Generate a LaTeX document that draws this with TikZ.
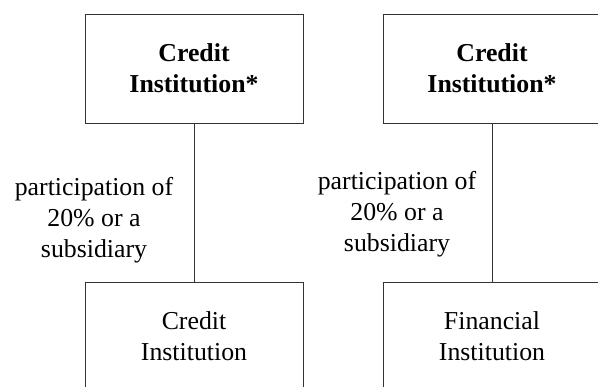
\documentclass[tikz,border=0pt]{standalone}
\usepackage{fontspec}
\setmainfont{Liberation Serif}
\usetikzlibrary{positioning}

\begin{document}
\begin{tikzpicture}[x=1pt,y=-1pt,font=\fontsize{25.8}{31}\selectfont]

	% Define the size of the boxes
	\def\boxW{218}
	\def\boxH{109}

	\tikzset{
		instbox/.style={draw=black!80, line width=0.9pt, minimum width=\boxW pt, minimum height=\boxH pt, align=center, inner sep=0pt},
		partlabel/.style={align=center, inner sep=0pt}
	}

	% Fix the page
	\useasboundingbox (0,0) rectangle (598,387);
	\clip (0,0) rectangle (598,387);

	% Parent institutions
	\node[instbox] (parentA) at (194,68.5) {\textbf{Credit}\\\textbf{Institution*}};
	\node[instbox] (parentB) at (492,68.5) {\textbf{Credit}\\\textbf{Institution*}};

	% Participated institutions
	\node[instbox] (childA) at (194,336.5) {Credit\\Institution};
	\node[instbox] (childB) at (492,336.5) {Financial\\Institution};

	% Links
	\draw[black!80, line width=0.9pt] (parentA.south) -- (childA.north);
	\draw[black!80, line width=0.9pt] (parentB.south) -- (childB.north);

	% Label the links
	\node[partlabel] (linkA) at (94,220) {participation of\\20\% or a\\subsidiary};
	\node[partlabel] (linkB) at (397,214) {participation of\\20\% or a\\subsidiary};

\end{tikzpicture}
\end{document}
